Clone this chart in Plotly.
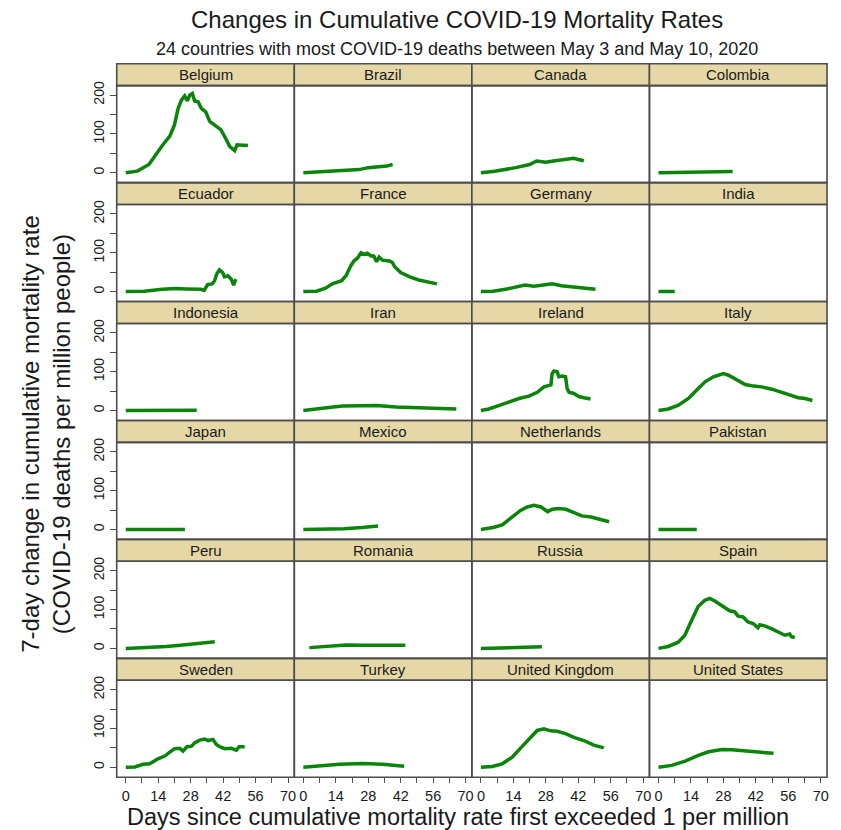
import plotly.graph_objects as go

countries = ["Belgium", "Brazil", "Canada", "Colombia",
             "Ecuador", "France", "Germany", "India",
             "Indonesia", "Iran", "Ireland", "Italy",
             "Japan", "Mexico", "Netherlands", "Pakistan",
             "Peru", "Romania", "Russia", "Spain",
             "Sweden", "Turkey", "United Kingdom", "United States"]

belgium_days = [0, 5, 10, 13, 16, 19, 21, 22.6, 24, 25.4, 26.6, 27.6, 28.7, 29.7, 31.2, 32.6, 34.5, 36.2, 39, 41, 43.4, 44.8, 47, 48, 50.5, 52.7]
belgium_vals = [0, 4, 21, 47, 72, 94, 123, 166, 187, 198, 185, 200, 204, 185, 183, 166, 157, 132, 119, 111, 85, 68, 57, 72, 71, 70]
brazil_days = [0, 8, 16, 24, 28, 33, 36, 38.5]
brazil_vals = [0, 2, 4, 8, 13, 15, 17, 21]
canada_days = [0, 6, 15, 21, 24, 28, 32, 36.5, 40, 42, 44.4]
canada_vals = [0, 4, 13, 21, 30, 27, 31, 34, 37, 34, 31]
colombia_days = [0, 10, 20, 32]
colombia_vals = [0, 1, 2, 3]
ecuador_days = [0, 8, 15.7, 21.6, 26, 32.4, 33.8, 35.3, 37.3, 38.3, 39.2, 40.4, 41.8, 42.6, 44.1, 45.5, 46.5, 47.5]
ecuador_vals = [0, 1, 6, 8, 7, 6, 3, 18, 20, 28, 45, 56, 49, 38, 41, 32, 17, 32]
france_days = [0, 5.7, 9.6, 12.5, 16.5, 18.4, 20.4, 21.8, 23.3, 24.9, 26.3, 27.6, 29.2, 30.4, 31.6, 32.7, 34.1, 37.1, 38.4, 39.4, 42, 45.9, 49.8, 53.7, 57.6]
france_vals = [0, 1, 9, 20, 28, 41, 66, 79, 86, 100, 96, 99, 92, 92, 77, 89, 81, 79, 75, 64, 49, 38, 30, 24, 20]
germany_days = [0, 5.3, 11.2, 15.1, 19, 22.9, 26.9, 30.8, 34.7, 38.6, 42.5, 49.4]
germany_vals = [0, 1, 7, 13, 17, 14, 18, 20, 15, 13, 9, 6]
india_days = [0, 3, 7]
india_vals = [0, 0, 0]
indonesia_days = [0, 15, 30.6]
indonesia_vals = [0, 0.5, 0.5]
iran_days = [0, 5.6, 12.8, 17.1, 22.8, 31.5, 40, 45.8, 55.9, 66]
iran_vals = [0, 3, 9, 12, 12, 13, 9, 8, 7, 4]
ireland_days = [0, 3.4, 9.2, 16.4, 20.7, 24.3, 27.2, 29.3, 30.2, 30.7, 31.5, 32.9, 33.6, 35.1, 36.5, 37.2, 38, 40.1, 42.2, 44.4, 47.3]
ireland_vals = [0, 4, 16, 31, 37, 47, 61, 64, 66, 95, 102, 100, 87, 89, 87, 57, 47, 44, 36, 33, 30]
italy_days = [0, 4.3, 8.6, 12.9, 16.5, 20.1, 23.7, 28, 30.2, 33.8, 37.4, 40.2, 44.5, 48.9, 53.2, 57.5, 60.3, 63.2, 64.7, 66.4]
italy_vals = [0, 4, 14, 31, 53, 74, 87, 95, 91, 78, 67, 64, 61, 55, 47, 38, 33, 31, 29, 26]
japan_days = [0, 12, 25.5]
japan_vals = [0, 0, 0]
mexico_days = [0, 9.6, 17.5, 25.3, 32.2]
mexico_vals = [0, 0, 2, 5, 9]
netherlands_days = [0, 5.3, 9.2, 13.1, 17.1, 20, 22.9, 25.9, 28.8, 30.8, 33.7, 36.7, 40.6, 43.5, 47.5, 50.4, 52.4, 55.3]
netherlands_vals = [0, 5, 12, 31, 49, 58, 62, 58, 46, 52, 54, 52, 43, 35, 32, 28, 26, 20]
pakistan_days = [0, 8, 16.5]
pakistan_vals = [0, 0, 0]
peru_days = [0, 10.3, 17.5, 24.7, 31.9, 38.4]
peru_vals = [0, 2, 5, 9, 14, 17]
romania_days = [2.6, 9.8, 18.4, 27, 35.6, 44]
romania_vals = [2, 6, 9, 8, 9, 8]
russia_days = [0, 10.5, 26.3]
russia_vals = [0, 1, 4]
spain_days = [0, 4.2, 8.5, 11.3, 14.2, 17.1, 20, 22.1, 24.3, 26.4, 28.6, 30.7, 32.9, 34.3, 36.5, 38.6, 40.8, 42.9, 43.7, 45.8, 48.7, 50.1, 51.6, 54.5, 56.6, 57.3, 58.8]
spain_vals = [0, 5, 16, 33, 71, 108, 124, 129, 122, 114, 106, 97, 94, 83, 81, 68, 64, 53, 61, 58, 51, 47, 41, 34, 37, 30, 28]
sweden_days = [0, 3.9, 7.5, 10.3, 13.9, 16.8, 19, 21.1, 23.3, 24.7, 26.4, 28.3, 29.7, 31.9, 34.1, 35.5, 37.6, 39.1, 40.5, 42.7, 45.5, 47.7, 48.9, 51.3]
sweden_vals = [0, 1, 8, 9, 22, 29, 39, 48, 49, 42, 53, 54, 63, 70, 73, 69, 72, 59, 53, 48, 49, 44, 53, 53]
turkey_days = [0, 6.9, 15.5, 25.6, 34.2, 43.5]
turkey_vals = [0, 3, 8, 10, 8, 3]
uk_days = [0, 4.9, 9.2, 13.5, 17.8, 21.4, 24.3, 27.2, 30, 32.9, 36.5, 40.1, 44.4, 48.7, 53]
uk_vals = [0, 2, 9, 26, 54, 78, 95, 99, 94, 93, 87, 77, 69, 57, 50]
us_days = [0, 5.7, 11.5, 17.2, 21.6, 27.3, 31.6, 37.4, 43.1, 49.6]
us_vals = [0, 5, 16, 31, 40, 46, 45, 42, 39, 36]

series_days = [belgium_days, brazil_days, canada_days, colombia_days,
               ecuador_days, france_days, germany_days, india_days,
               indonesia_days, iran_days, ireland_days, italy_days,
               japan_days, mexico_days, netherlands_days, pakistan_days,
               peru_days, romania_days, russia_days, spain_days,
               sweden_days, turkey_days, uk_days, us_days]
series_vals = [belgium_vals, brazil_vals, canada_vals, colombia_vals,
               ecuador_vals, france_vals, germany_vals, india_vals,
               indonesia_vals, iran_vals, ireland_vals, italy_vals,
               japan_vals, mexico_vals, netherlands_vals, pakistan_vals,
               peru_vals, romania_vals, russia_vals, spain_vals,
               sweden_vals, turkey_vals, uk_vals, us_vals]

x_ticks = [0, 7, 14, 21, 28, 35, 42, 49, 56, 63, 70]
x_tick_labels = ["0", "", "14", "", "28", "", "42", "", "56", "", "70"]
y_ticks = [0, 50, 100, 150, 200]
y_tick_labels = ["0", "", "100", "", "200"]

W, H = 841, 830
FONT = "Liberation Sans, Arial, sans-serif"
LINE_GREEN = "#0b840b"
HEADER_FILL = "#e5d8a6"
BORDER = "#4d4d4d"
TEXT = "#1a1a1a"

left0, panel_w = 117, 178
top0, row_h, head_h = 60, 119.5, 22

fig = go.Figure()
layout = dict(
    width=W, height=H,
    margin=dict(l=0, r=0, t=0, b=0),
    paper_bgcolor="white", plot_bgcolor="white",
    showlegend=False,
    font=dict(family=FONT, color=TEXT),
)
shapes = []
annotations = []

def px(x):
    return x / W

def py(y):
    return 1 - y / H

for i, name in enumerate(countries):
    r, c = divmod(i, 4)
    x0 = left0 + c * panel_w
    x1 = x0 + panel_w
    htop = top0 + r * row_h
    hbot = htop + head_h
    pbot = htop + row_h
    k = "" if i == 0 else str(i + 1)
    fig.add_trace(go.Scatter(
        x=series_days[i], y=series_vals[i], mode="lines",
        line=dict(color=LINE_GREEN, width=3.5),
        xaxis="x" + k, yaxis="y" + k, hoverinfo="skip"))
    layout["xaxis" + k] = dict(
        domain=[px(x0), px(x1)], range=[-3.9, 72.7], anchor="y" + k,
        showgrid=False, zeroline=False, showline=False,
        tickvals=x_ticks, ticktext=x_tick_labels,
        ticks="outside" if r == 5 else "", ticklen=5, tickwidth=1.3, tickcolor=BORDER,
        showticklabels=(r == 5), tickfont=dict(size=14.5, color=TEXT, family=FONT))
    layout["yaxis" + k] = dict(
        domain=[py(pbot), py(hbot)], range=[-25.6, 224.4], anchor="x" + k,
        showgrid=False, zeroline=False, showline=False,
        tickvals=y_ticks, ticktext=y_tick_labels, tickangle=-90,
        ticks="outside" if c == 0 else "", ticklen=6, tickwidth=1.3, tickcolor=BORDER,
        showticklabels=(c == 0), tickfont=dict(size=14, color=TEXT, family=FONT))
    shapes.append(dict(type="rect", xref="paper", yref="paper",
                       x0=px(x0), x1=px(x1), y0=py(hbot), y1=py(htop),
                       fillcolor=HEADER_FILL, line=dict(color=BORDER, width=1.6), layer="below"))
    shapes.append(dict(type="rect", xref="paper", yref="paper",
                       x0=px(x0), x1=px(x1), y0=py(pbot), y1=py(hbot),
                       fillcolor="rgba(0,0,0,0)", line=dict(color=BORDER, width=1.6), layer="above"))
    annotations.append(dict(text=name, xref="paper", yref="paper",
                            x=px((x0 + x1) / 2), y=py((htop + hbot) / 2),
                            xanchor="center", yanchor="middle", showarrow=False,
                            font=dict(size=15, color=TEXT, family=FONT)))

annotations += [
    dict(text="Changes in Cumulative COVID-19 Mortality Rates", xref="paper", yref="paper",
         x=px(458), y=py(16), xanchor="center", yanchor="middle", showarrow=False,
         font=dict(size=24, color=TEXT, family=FONT)),
    dict(text="24 countries with most COVID-19 deaths between May 3 and May 10, 2020",
         xref="paper", yref="paper", x=px(458), y=py(45), xanchor="center", yanchor="middle",
         showarrow=False, font=dict(size=18, color=TEXT, family=FONT)),
    dict(text="Days since cumulative mortality rate first exceeded 1 per million",
         xref="paper", yref="paper", x=px(459), y=py(817), xanchor="center", yanchor="middle",
         showarrow=False, font=dict(size=23.5, color=TEXT, family=FONT)),
    dict(text="7-day change in cumulative mortality rate<br>(COVID-19 deaths per million people)",
         xref="paper", yref="paper", x=px(46), y=py(432), xanchor="center", yanchor="middle",
         textangle=-90, showarrow=False, font=dict(size=24, color=TEXT, family=FONT)),
]

layout["shapes"] = shapes
layout["annotations"] = annotations
fig.update_layout(**layout)
fig.write_html("out.html", config={"displayModeBar": False},
               post_script="document.body.style.margin='0px';document.body.style.overflow='hidden';")
